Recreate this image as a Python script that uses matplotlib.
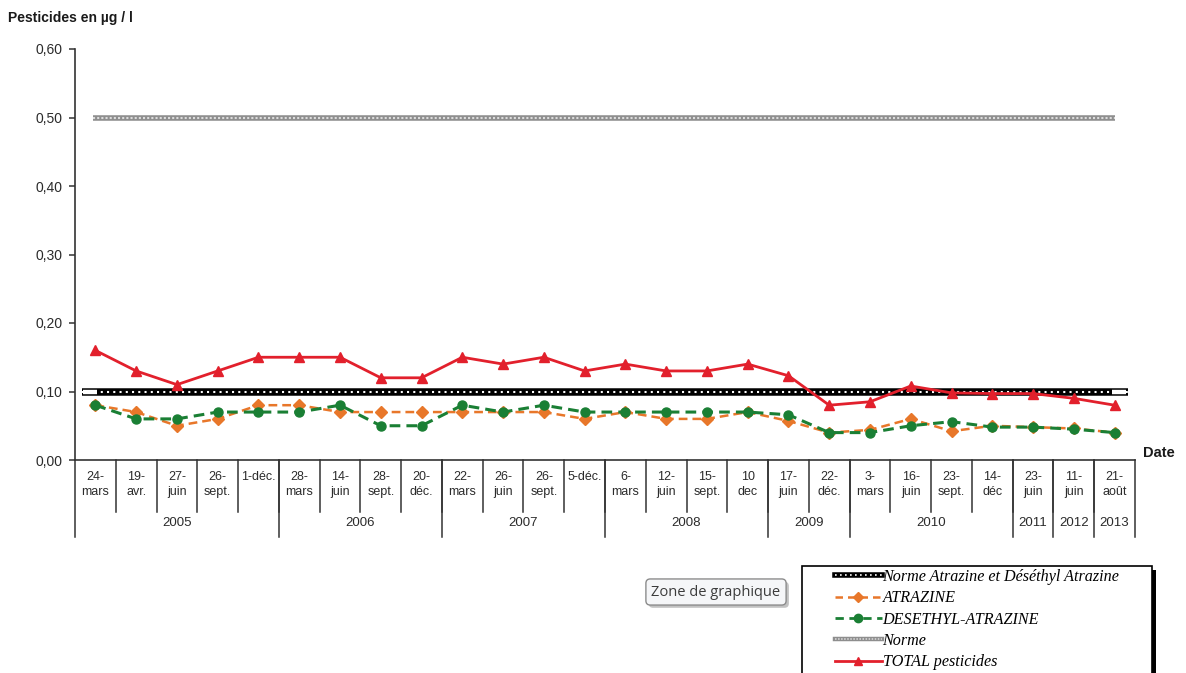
import matplotlib
matplotlib.use("Agg")
import matplotlib.pyplot as plt
from matplotlib.lines import Line2D
from matplotlib.legend_handler import HandlerTuple
from matplotlib.patches import Rectangle
from matplotlib import patheffects as pe
from matplotlib.ticker import FuncFormatter, FixedLocator

# ---- data -------------------------------------------------------------
day_labels = ["24-\nmars", "19-\navr.", "27-\njuin", "26-\nsept.", "1-déc.",
              "28-\nmars", "14-\njuin", "28-\nsept.", "20-\ndéc.",
              "22-\nmars", "26-\njuin", "26-\nsept.", "5-déc.",
              "6-\nmars", "12-\njuin", "15-\nsept.", "10\ndec",
              "17-\njuin", "22-\ndéc.",
              "3-\nmars", "16-\njuin", "23-\nsept.", "14-\ndéc",
              "23-\njuin", "11-\njuin", "21-\naoût"]
years = ["2005", "2006", "2007", "2008", "2009", "2010", "2011", "2012", "2013"]
year_counts = [5, 4, 4, 4, 2, 4, 1, 1, 1]

total_pesticides = [0.16, 0.13, 0.11, 0.13, 0.15, 0.15, 0.15, 0.12, 0.12,
                    0.15, 0.14, 0.15, 0.13, 0.14, 0.13, 0.13, 0.14,
                    0.123, 0.08, 0.085, 0.108, 0.098, 0.097, 0.097, 0.09, 0.08]
atrazine = [0.08, 0.07, 0.05, 0.06, 0.08, 0.08, 0.07, 0.07, 0.07,
            0.07, 0.07, 0.07, 0.06, 0.07, 0.06, 0.06, 0.07,
            0.057, 0.04, 0.044, 0.06, 0.042, 0.05, 0.048, 0.046, 0.04]
desethyl_atrazine = [0.08, 0.06, 0.06, 0.07, 0.07, 0.07, 0.08, 0.05, 0.05,
                     0.08, 0.07, 0.08, 0.07, 0.07, 0.07, 0.07, 0.07,
                     0.066, 0.04, 0.04, 0.05, 0.056, 0.048, 0.048, 0.045, 0.04]
norme = 0.50
norme_atrazine = 0.10
y_ticks = [0.0, 0.1, 0.2, 0.3, 0.4, 0.5, 0.6]

# ---- styles -----------------------------------------------------------
C_ORANGE = "#E8772A"
C_GREEN = "#1A7F34"
C_RED = "#E2202C"
C_GRAY = "#8E8E8E"
TXT = "#2b2b2b"
SANS = "Liberation Sans"
SERIF = "Liberation Serif"

W, H = 1186, 673
fig = plt.figure(figsize=(W / 100, H / 100), dpi=100)
fig.patch.set_facecolor("white")

ax_left, ax_right, ax_top, ax_bottom = 75, 1135, 49, 460
ax = fig.add_axes([ax_left / W, 1 - ax_bottom / H,
                   (ax_right - ax_left) / W, (ax_bottom - ax_top) / H])

n = len(day_labels)
x = list(range(n))
ax.set_xlim(-0.5, n - 0.5)
ax.set_ylim(0, 0.6)

# reference lines (drawn as thick patterned bands)
ax.axhline(norme, xmin=0.017, xmax=0.981, color=C_GRAY, lw=4.0, zorder=2,
           solid_capstyle="butt")
ax.axhline(norme, xmin=0.017, xmax=0.981, color="#dcdcdc", lw=1.5, zorder=2.1,
           linestyle=(0, (1, 1)))
ax.axhline(norme_atrazine, xmin=0.0066, xmax=0.993, color="black", lw=5.4,
           zorder=2, solid_capstyle="butt")
ax.axhline(norme_atrazine, xmin=0.0066, xmax=0.993, color="white", lw=1.5,
           zorder=2.1, linestyle=(0, (1, 2)))
ax.axhline(norme_atrazine, xmin=0.008, xmax=0.021, color="white", lw=3.2,
           zorder=2.2, solid_capstyle="butt")
ax.axhline(norme_atrazine, xmin=0.978, xmax=0.9915, color="white", lw=3.2,
           zorder=2.2, solid_capstyle="butt")

ax.plot(x, atrazine, color=C_ORANGE, lw=1.8, linestyle=(0, (3.5, 2)),
        marker="D", ms=6, mec=C_ORANGE, mfc=C_ORANGE, zorder=3)
ax.plot(x, desethyl_atrazine, color=C_GREEN, lw=2.2, linestyle=(0, (3.5, 2)),
        marker="o", ms=6.5, mec=C_GREEN, mfc=C_GREEN, zorder=4)
ax.plot(x, total_pesticides, color=C_RED, lw=2.0, marker="^", ms=6.5,
        mec=C_RED, mfc=C_RED, zorder=5)

# axes styling
for side in ("top", "right"):
    ax.spines[side].set_visible(False)
ax.spines["left"].set_color("#333333")
ax.spines["left"].set_linewidth(1.2)
ax.spines["bottom"].set_color("#333333")
ax.spines["bottom"].set_linewidth(1.2)
ax.yaxis.set_major_locator(FixedLocator(y_ticks))
ax.yaxis.set_major_formatter(FuncFormatter(lambda v, p: f"{v:.2f}".replace(".", ",")))
ax.tick_params(axis="y", length=4, width=1.1, color="#333333", pad=5,
               labelsize=10, labelcolor=TXT)
for lab in ax.get_yticklabels():
    lab.set_fontfamily(SANS)
ax.set_xticks([])

# category table under the axis
trans = ax.get_xaxis_transform()
ph = ax_bottom - ax_top
day_bottom = -(512 - ax_bottom) / ph
year_bottom = -(537 - ax_bottom) / ph
for i, lab in enumerate(day_labels):
    ax.text(i, -(471 - ax_bottom) / ph, lab, transform=trans, ha="center",
            va="top", fontsize=9, family=SANS, color=TXT, linespacing=1.35,
            clip_on=False)
for b in range(1, n):
    ax.plot([b - 0.5, b - 0.5], [0, day_bottom], transform=trans,
            color="#333333", lw=1.1, clip_on=False)
start = 0
bounds = [-0.5]
for yr, cnt in zip(years, year_counts):
    centre = start + (cnt - 1) / 2
    ax.text(centre, -(523 - ax_bottom) / ph, yr, transform=trans, ha="center",
            va="center", fontsize=9.5, family=SANS, color=TXT, clip_on=False)
    start += cnt
    bounds.append(start - 0.5)
for b in bounds:
    ax.plot([b, b], [0, year_bottom], transform=trans, color="#333333",
            lw=1.1, clip_on=False)

# titles
fig.text(8 / W, 1 - 18 / H, "Pesticides en µg / l", fontsize=10,
         fontweight="bold", family=SANS, color="#1a1a1a", va="center", ha="left")
fig.text(1143 / W, 1 - 453 / H, "Date", fontsize=10.5, fontweight="bold",
         family=SANS, color="#1a1a1a", va="center", ha="left")

# legend box with shadow
lx0, lx1, ly0 = 802, 1152, 566
fig.patches.append(Rectangle(((lx0 + 4) / W, -0.1), (lx1 - lx0) / W,
                             1 - (ly0 + 4) / H + 0.1, transform=fig.transFigure,
                             facecolor="black", edgecolor="none", zorder=1))
fig.patches.append(Rectangle((lx0 / W, -0.1), (lx1 - lx0) / W,
                             1 - ly0 / H + 0.1, transform=fig.transFigure,
                             facecolor="white", edgecolor="black", lw=1.2,
                             zorder=1.5))

h_norme_atr = (Line2D([], [], color="black", lw=4.0),
               Line2D([], [], color="white", lw=1.2, linestyle=(0, (1, 2))))
h_atr = Line2D([], [], color=C_ORANGE, lw=1.8, linestyle=(0, (3, 2)),
               marker="D", ms=5, mfc=C_ORANGE, mec=C_ORANGE)
h_des = Line2D([], [], color=C_GREEN, lw=2.0, linestyle=(0, (3, 2)),
               marker="o", ms=6, mfc=C_GREEN, mec=C_GREEN)
h_norme = (Line2D([], [], color=C_GRAY, lw=3.2),
           Line2D([], [], color="#dcdcdc", lw=1.1, linestyle=(0, (1, 1))))
h_total = Line2D([], [], color=C_RED, lw=2.0, marker="^", ms=6,
                 mfc=C_RED, mec=C_RED)
leg = fig.legend([h_norme_atr, h_atr, h_des, h_norme, h_total],
                 ["Norme Atrazine et Déséthyl Atrazine", "ATRAZINE",
                  "DESETHYL-ATRAZINE", "Norme", "TOTAL pesticides"],
                 loc="upper left", bbox_to_anchor=(835 / W, 1 - 569 / H),
                 frameon=False, borderpad=0, borderaxespad=0,
                 handlelength=2.9, handletextpad=0.05, labelspacing=0.33,
                 prop={"family": SERIF, "style": "italic", "size": 11.6},
                 handler_map={tuple: HandlerTuple(ndivide=1)})
leg.set_zorder(3)

# hover tooltip
tip = fig.text(716 / W, 1 - 592 / H, "Zone de graphique", fontsize=10.5,
               family="Open Sans", color="#3c3c3c", ha="center", va="center",
               bbox=dict(boxstyle="round,pad=0.38,rounding_size=0.3",
                         fc="#f5f6f8", ec="#8c8c8c", lw=1.0))
tip.get_bbox_patch().set_path_effects([
    pe.SimplePatchShadow(offset=(2, -2), shadow_rgbFace="#9a9a9a", alpha=0.6),
    pe.Normal()])

fig.savefig("out.png", dpi=100)
